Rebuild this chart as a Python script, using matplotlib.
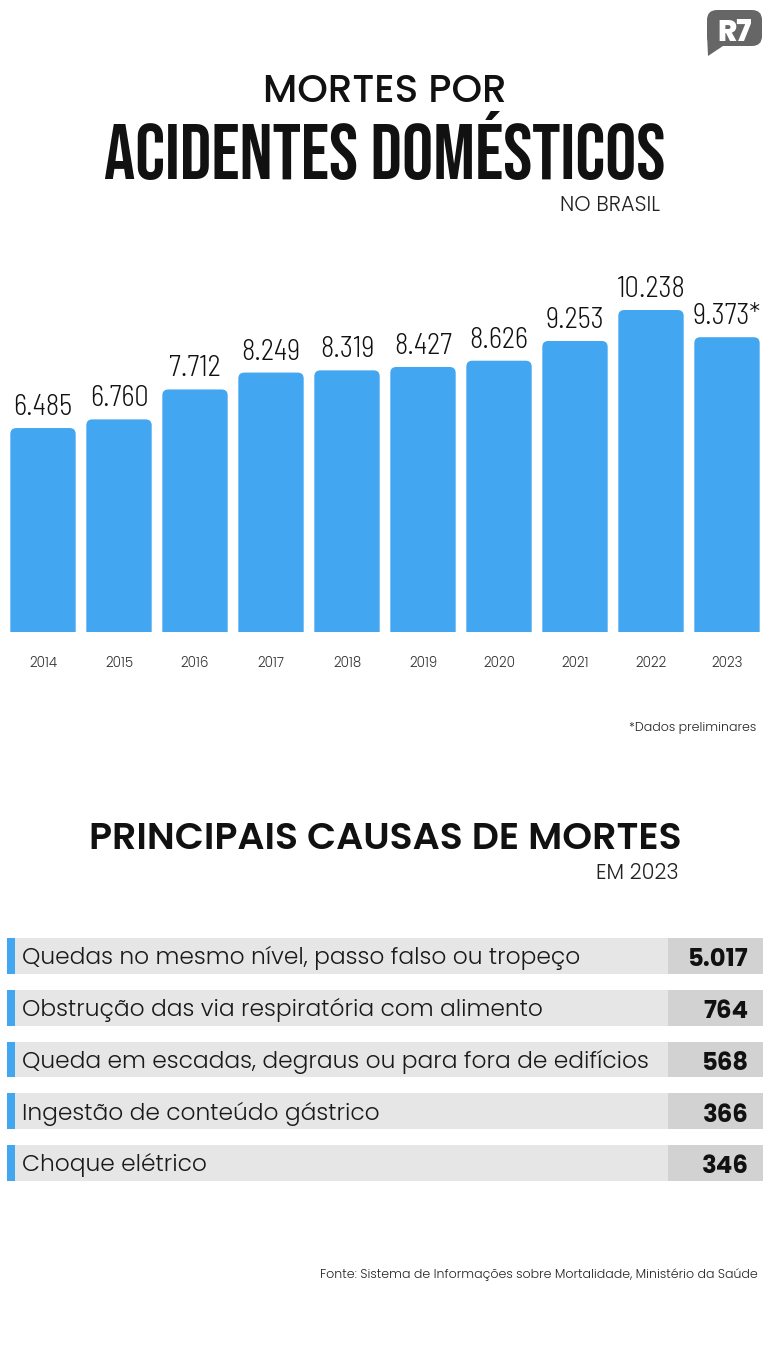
import matplotlib
matplotlib.use('Agg')
import matplotlib.pyplot as plt
from matplotlib.patches import FancyBboxPatch, Polygon

# data
years = ['2014', '2015', '2016', '2017', '2018', '2019', '2020', '2021', '2022', '2023']
deaths = [6485, 6760, 7712, 8249, 8319, 8427, 8626, 9253, 10238, 9373]
deaths_labels = ['6.485', '6.760', '7.712', '8.249', '8.319', '8.427', '8.626', '9.253', '10.238', '9.373*']

causes = ['Quedas no mesmo nível, passo falso ou tropeço',
          'Obstrução das via respiratória com alimento',
          'Queda em escadas, degraus ou para fora de edifícios',
          'Ingestão de conteúdo gástrico',
          'Choque elétrico']
causes_values = [5017, 764, 568, 366, 346]
causes_labels = ['5.017', '764', '568', '366', '346']

BLUE = '#42a6f1'
W, H = 770, 1351

def fx(px):
    return px / W

def fy(py):
    return 1 - py / H

F_TITLE = ['Poppins', 'DejaVu Sans']
F_BIG = ['Bebas Neue', 'DejaVu Sans']
F_NUM = ['Barlow Semi Condensed', 'DejaVu Sans']

fig = plt.figure(figsize=(W / 100, H / 100), dpi=100)
fig.patch.set_facecolor('white')

# pixel overlay for the logo
bg = fig.add_axes([0, 0, 1, 1])
bg.set_xlim(0, W)
bg.set_ylim(H, 0)
bg.axis('off')
bg.add_patch(FancyBboxPatch((707, 10), 55, 36, boxstyle='round,pad=0,rounding_size=10',
                            fc='#666666', ec='none'))
bg.add_patch(Polygon([(707, 34), (708, 56), (726, 44)], closed=True, fc='#666666', ec='none'))
bg.text(734.5, 41, 'R7', color='white', fontsize=21, fontweight=800, family=F_TITLE,
        ha='center', va='baseline')

# titles
fig.text(0.5, fy(102), 'MORTES POR', ha='center', va='baseline', fontsize=28,
         fontweight=500, family=F_TITLE, color='#111111')
fig.text(0.5, fy(179), 'ACIDENTES DOMÉSTICOS', ha='center', va='baseline', fontsize=56,
         family=F_BIG, color='#111111')
fig.text(fx(660), fy(211), 'NO BRASIL', ha='right', va='baseline', fontsize=15,
         fontweight=300, family=F_TITLE, color='#222222')

# bar chart
ax = fig.add_axes([fx(5), fy(632), 760 / W, (632 - 250) / H])
bars = ax.bar(range(len(years)), deaths, width=0.86, color=BLUE)
ax.set_xlim(-0.5, len(years) - 0.5)
ax.set_ylim(0, 382 / 0.03145)
y_per_px = (382 / 0.03145) / 382
x_per_px = 10 / 760
for b in bars:
    b.set_visible(False)
    ax.add_patch(FancyBboxPatch((b.get_x(), -20 * y_per_px), b.get_width(), b.get_height() + 20 * y_per_px,
                                boxstyle='round,pad=0,rounding_size=%f' % (6 * x_per_px),
                                mutation_aspect=y_per_px / x_per_px, fc=BLUE, ec='none'))
for i, (v, lab) in enumerate(zip(deaths, deaths_labels)):
    ax.annotate(lab, (i, v), xytext=(0, 13), textcoords='offset pixels', ha='center', va='baseline',
                fontsize=20.5, fontweight=300, family=F_NUM, color='#111111')
ax.set_xticks(range(len(years)), years)
ax.tick_params(axis='x', length=0, pad=17, labelsize=9.7, labelcolor='#333333')
for t in ax.get_xticklabels():
    t.set_family(F_TITLE)
    t.set_fontweight(300)
ax.set_yticks([])
for s in ax.spines.values():
    s.set_visible(False)

fig.text(fx(756), fy(731), '*Dados preliminares', ha='right', va='baseline', fontsize=9,
         fontweight=300, family=F_TITLE, color='#222222')

# causes
fig.text(0.5, fy(849), 'PRINCIPAIS CAUSAS DE MORTES', ha='center', va='baseline', fontsize=27.3,
         fontweight=600, family=F_TITLE, color='#111111')
fig.text(fx(679), fy(879), 'EM 2023', ha='right', va='baseline', fontsize=15,
         fontweight=300, family=F_TITLE, color='#222222')

ax2 = fig.add_axes([fx(7), fy(1181), (763 - 7) / W, (1181 - 938) / H])
n = len(causes)
ax2.set_xlim(7, 763)
ax2.set_ylim(n - 1 + 0.346, -0.346)
rows = range(n)
ax2.barh(rows, [668 - 15] * n, left=15, height=0.692, color='#e6e6e6')
ax2.barh(rows, [763 - 668] * n, left=668, height=0.692, color='#d2d2d2')
ax2.barh(rows, [15 - 7] * n, left=7, height=0.692, color=BLUE)
for i, (c, lab) in enumerate(zip(causes, causes_labels)):
    ax2.text(22, i + 0.16, c, ha='left', va='baseline', fontsize=16.8, fontweight=300,
             family=F_TITLE, color='#1a1a1a')
    ax2.text(749, i + 0.2, lab, ha='right', va='baseline', fontsize=17.5, fontweight=700,
             family=F_TITLE, color='#111111')
ax2.axis('off')

fig.text(fx(758), fy(1278), 'Fonte: Sistema de Informações sobre Mortalidade, Ministério da Saúde',
         ha='right', va='baseline', fontsize=9, fontweight=300, family=F_TITLE, color='#222222')

fig.savefig('out.png', dpi=100)
